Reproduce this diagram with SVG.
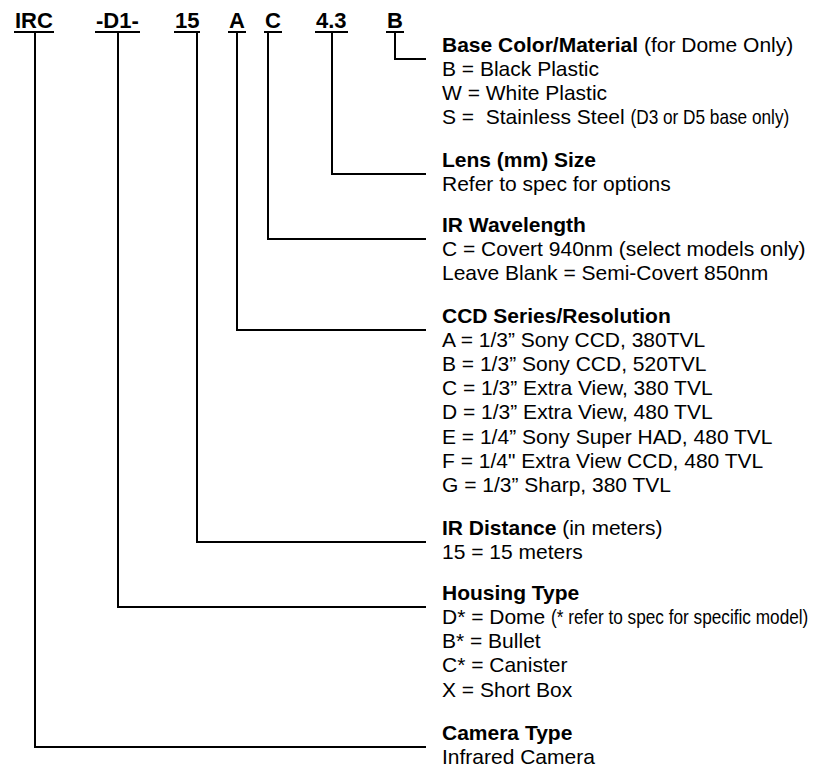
<svg xmlns="http://www.w3.org/2000/svg" width="813" height="772" viewBox="0 0 813 772">
<style>
  text { font-family: "Liberation Sans", Arial, Helvetica, sans-serif; fill: #000; }
  .code { font-size: 22px; font-weight: bold; }
  .h { font-size: 21px; font-weight: bold; }
  .t { font-size: 21px; }
  .b { font-weight: bold; }
  .n { font-weight: normal; }
  .ul { stroke: #000; stroke-width: 2; fill: none; }
  .conn { stroke: #000; stroke-width: 2; fill: none; stroke-linecap: square; }
</style>
<rect width="813" height="772" fill="#fff"/>

<g id="code">
  <text class="code" x="15" y="28">IRC</text>
  <text class="code" x="96" y="28">-D1-</text>
  <text class="code" x="175" y="28">15</text>
  <text class="code" x="229" y="28">A</text>
  <text class="code" x="265" y="28">C</text>
  <text class="code" x="316" y="28">4.3</text>
  <text class="code" x="387" y="28">B</text>
  <line class="ul" x1="14" y1="32" x2="54" y2="32"/>
  <line class="ul" x1="95" y1="32" x2="140" y2="32"/>
  <line class="ul" x1="174" y1="32" x2="200" y2="32"/>
  <line class="ul" x1="228" y1="32" x2="246" y2="32"/>
  <line class="ul" x1="264" y1="32" x2="282" y2="32"/>
  <line class="ul" x1="315" y1="32" x2="348" y2="32"/>
  <line class="ul" x1="386" y1="32" x2="404" y2="32"/>
</g>

<g id="connectors">
  <polyline class="conn" points="395,33 395,59 425,59"/>
  <polyline class="conn" points="332,33 332,174 425,174"/>
  <polyline class="conn" points="268,33 268,239 425,239"/>
  <polyline class="conn" points="237,33 237,330 425,330"/>
  <polyline class="conn" points="197,33 197,542 425,542"/>
  <polyline class="conn" points="118,33 118,607 425,607"/>
  <polyline class="conn" points="35,33 35,747 425,747"/>
</g>

<g id="base-color">
  <text class="t" x="442" y="52"><tspan class="b">Base Color/Material</tspan> (for Dome Only)</text>
  <text class="t" x="442" y="76">B = Black Plastic</text>
  <text class="t" x="442" y="100">W = White Plastic</text>
  <text class="t" x="442" y="124" xml:space="preserve">S =  Stainless Steel </text>
  <text class="t" transform="translate(630.5,124) scale(0.82,1)">(D3 or D5 base only)</text>
</g>

<g id="lens">
  <text class="h" x="442" y="167">Lens (mm) Size</text>
  <text class="t" x="442" y="191">Refer to spec for options</text>
</g>

<g id="ir-wavelength">
  <text class="h" x="442" y="232">IR Wavelength</text>
  <text class="t" x="442" y="256">C = Covert 940nm (select models only)</text>
  <text class="t" x="442" y="280">Leave Blank = Semi-Covert 850nm</text>
</g>

<g id="ccd">
  <text class="h" x="442" y="323">CCD Series/Resolution</text>
  <text class="t" x="442" y="347">A = 1/3” Sony CCD, 380TVL</text>
  <text class="t" x="442" y="371">B = 1/3” Sony CCD, 520TVL</text>
  <text class="t" x="442" y="395">C = 1/3” Extra View, 380 TVL</text>
  <text class="t" x="442" y="419">D = 1/3” Extra View, 480 TVL</text>
  <text class="t" x="442" y="444">E = 1/4” Sony Super HAD, 480 TVL</text>
  <text class="t" x="442" y="468">F = 1/4" Extra View CCD, 480 TVL</text>
  <text class="t" x="442" y="492">G = 1/3” Sharp, 380 TVL</text>
</g>

<g id="ir-distance">
  <text class="t" x="442" y="535"><tspan class="b">IR Distance</tspan> (in meters)</text>
  <text class="t" x="442" y="559">15 = 15 meters</text>
</g>

<g id="housing">
  <text class="h" x="442" y="600">Housing Type</text>
  <text class="t" x="442" y="624" xml:space="preserve">D* = Dome </text>
  <text class="t" transform="translate(551.1,624) scale(0.82,1)">(* refer to spec for specific model)</text>
  <text class="t" x="442" y="648">B* = Bullet</text>
  <text class="t" x="442" y="672">C* = Canister</text>
  <text class="t" x="442" y="697">X = Short Box</text>
</g>

<g id="camera">
  <text class="h" x="442" y="740">Camera Type</text>
  <text class="t" x="442" y="764">Infrared Camera</text>
</g>
</svg>
